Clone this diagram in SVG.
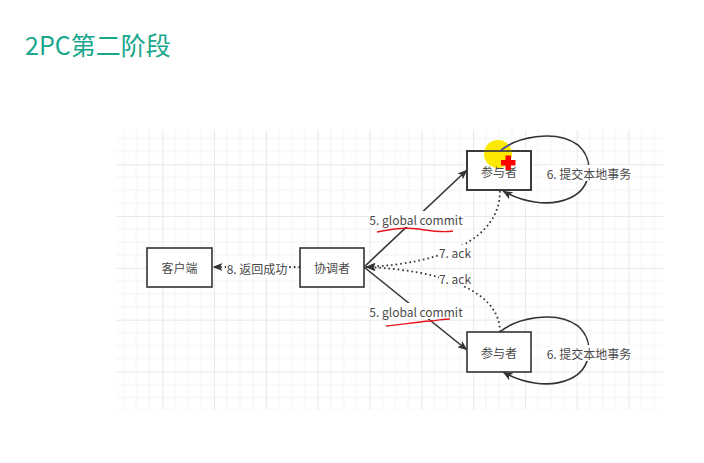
<svg xmlns="http://www.w3.org/2000/svg" width="704" height="463" viewBox="0 0 704 463">
<style>
.node rect{fill:#fff;stroke:#333;stroke-width:1.6}
.nt{font-family:"Microsoft YaHei","Noto Sans CJK SC","Liberation Sans",sans-serif;font-size:12px;fill:#4a4a4a;text-anchor:middle;dominant-baseline:central}
.lt{font-family:"Microsoft YaHei","Noto Sans CJK SC","Liberation Sans",sans-serif;font-size:12px;fill:#4a4a4a;text-anchor:middle;dominant-baseline:central}
.solid{fill:none;stroke:#333;stroke-width:1.6}
.dot{fill:none;stroke:#333;stroke-width:1.8;stroke-dasharray:1.6 3}
.bg{fill:#fff}
.red{fill:none;stroke:#e8141c;stroke-width:1.4}
</style>
<defs>
<pattern id="grid" patternUnits="userSpaceOnUse" x="162.3" y="164.3" width="51.8" height="51.8">
<path d="M12.95,0V51.8M25.9,0V51.8M38.85,0V51.8M0,12.95H51.8M0,25.9H51.8M0,38.85H51.8" stroke="#f3f3f3" stroke-width="1" fill="none"/>
<path d="M0.5,0V51.8M0,0.5H51.8" stroke="#e8e8e8" stroke-width="1" fill="none"/>
</pattern>
<marker id="arr" viewBox="0 0 10 8" refX="9.5" refY="4" markerWidth="10" markerHeight="8" markerUnits="userSpaceOnUse" orient="auto">
<path d="M0,0 L10,4 L0,8 L2.5,4 Z" fill="#333"/>
</marker>
</defs>
<rect width="704" height="463" fill="#fff"/>
<text x="25" y="55" font-family="Microsoft YaHei,Noto Sans CJK SC,Liberation Sans,sans-serif" font-size="25" fill="#18a68c">2PC第二阶段</text>
<rect x="116" y="130" width="547" height="280" fill="url(#grid)"/>

<g id="connectors">
<path class="solid" d="M364,267 L467,170" marker-end="url(#arr)"/>
<path class="solid" d="M364,267 L467,350" marker-end="url(#arr)"/>
<path class="dot" d="M500,191 C500,240 440,264 366,267" marker-end="url(#arr)"/>
<path class="dot" d="M500,332 C500,290 440,270 366,267" marker-end="url(#arr)"/>
<path class="dot" d="M300,267 L213,267" marker-end="url(#arr)"/>
<path class="solid" d="M500,151 C515,138 555,128 578,145 C595,160 592,188 570,198 C548,208 520,201 503,191" marker-end="url(#arr)"/>
<path class="solid" d="M500,332 C515,319 555,309 578,326 C595,341 592,369 570,379 C548,389 520,382 503,372" marker-end="url(#arr)"/>
<rect class="bg" x="369" y="211" width="95" height="16"/>
<text class="lt" x="416" y="219">5. global  commit</text>
<rect class="bg" x="369" y="303" width="95" height="16"/>
<text class="lt" x="416" y="311">5. global  commit</text>
<rect class="bg" x="439" y="245" width="33" height="15"/>
<text class="lt" x="455" y="252">7. ack</text>
<rect class="bg" x="439" y="271" width="33" height="15"/>
<text class="lt" x="455" y="278">7. ack</text>
<rect class="bg" x="226" y="260" width="63" height="16"/>
<text class="lt" x="257" y="268">8. 返回成功</text>
<rect class="bg" x="547" y="165" width="84" height="16"/>
<text class="lt" x="589" y="173">6. 提交本地事务</text>
<rect class="bg" x="547" y="345" width="84" height="16"/>
<text class="lt" x="589" y="353">6. 提交本地事务</text>
</g>

<g id="client" class="node">
<rect x="147" y="248" width="65" height="39"/>
<text class="nt" x="179.5" y="267.5">客户端</text>
</g>
<g id="coordinator" class="node">
<rect x="300" y="248" width="64" height="39"/>
<text class="nt" x="332" y="267.5">协调者</text>
</g>
<g id="participant1" class="node">
<rect x="467" y="151" width="64" height="39"/>
<circle cx="498" cy="154" r="14" fill="#fde800"/>
<rect x="467" y="151" width="64" height="39" style="fill:none"/>
<text class="nt" x="499" y="171">参与者</text>
<path d="M500,151 C503,148.5 506,146.5 510,144.5" fill="none" stroke="#3a4aa0" stroke-width="1.6"/>
<path d="M505.5,155.5 h5.5 v4.5 h4.5 v5.5 h-4.5 v4.5 h-5.5 v-4.5 h-4.5 v-5.5 h4.5 z" fill="#ff0000"/>
</g>
<g id="participant2" class="node">
<rect x="467" y="332" width="64" height="40"/>
<text class="nt" x="499" y="352">参与者</text>
</g>

<g id="annotations">
<path class="red" d="M377,232 C390,229 405,227 418,229 C432,231 442,233 453,231"/>
<path class="red" d="M386,326 C400,325 415,322 430,321 C440,320 445,319 450,319"/>
</g>
</svg>
